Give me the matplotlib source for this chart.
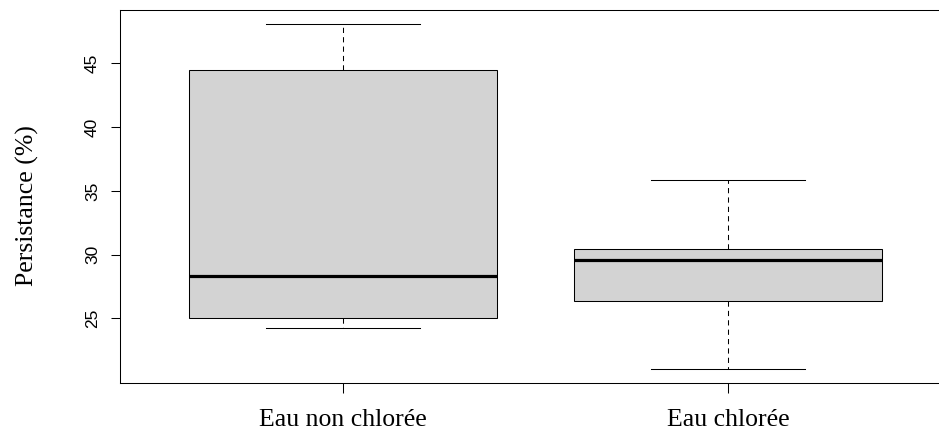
import matplotlib
matplotlib.use("Agg")
import matplotlib.pyplot as plt

# Boxplot statistics
groups = ["Eau non chlorée", "Eau chlorée"]
whisker_low = [24.25, 21.0]
q1 = [25.0, 26.35]
medians = [28.35, 29.55]
q3 = [44.5, 30.4]
whisker_high = [48.1, 35.85]

stats = []
for i, name in enumerate(groups):
    stats.append({
        "label": name,
        "whislo": whisker_low[i],
        "q1": q1[i],
        "med": medians[i],
        "q3": q3[i],
        "whishi": whisker_high[i],
        "fliers": [],
    })

fig = plt.figure(figsize=(9.39, 4.34), dpi=100)
ax = fig.add_axes([120 / 939, 51 / 434, 831 / 939, 373 / 434])

lw = 0.75
ax.bxp(stats, positions=[1, 2], widths=0.8, capwidths=0.4, patch_artist=True,
       showfliers=False,
       boxprops=dict(facecolor="#d3d3d3", edgecolor="black", linewidth=lw),
       medianprops=dict(color="black", linewidth=2.3, solid_capstyle="butt"),
       whiskerprops=dict(color="black", linewidth=lw, linestyle=(0, (5, 4))),
       capprops=dict(color="black", linewidth=lw))

ax.set_xlim(0.42, 2.58)
ax.set_ylim(19.93, 49.18)
ax.set_yticks([25, 30, 35, 40, 45])
ax.set_yticklabels(["25", "30", "35", "40", "45"], rotation=90, va="center",
                   family="Liberation Sans", fontsize=12.5)
ax.set_xticks([1, 2])
ax.set_xticklabels(groups, family="Liberation Serif", fontsize=18.5)
ax.tick_params(axis="y", length=6.5, width=lw, pad=8)
ax.tick_params(axis="x", length=7, width=lw, pad=12)

for s in ax.spines.values():
    s.set_linewidth(lw)

ax.set_ylabel("Persistance (%)", family="Liberation Serif", fontsize=18.5)
ax.yaxis.set_label_coords(-0.098, 0.475)

fig.savefig("out.png", dpi=100)
